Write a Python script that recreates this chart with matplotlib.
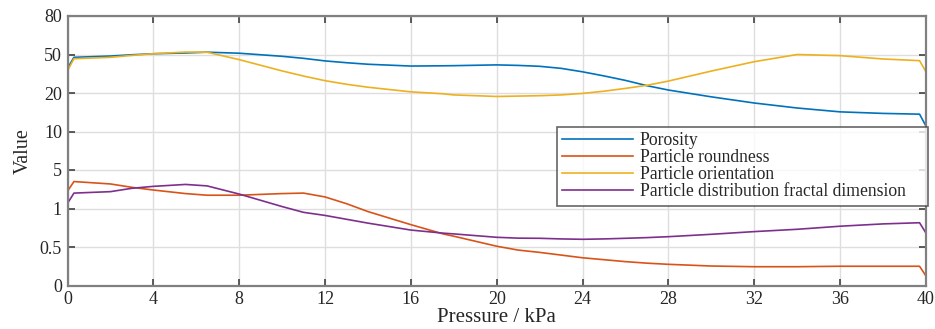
import numpy as np
import matplotlib
matplotlib.use("Agg")
import matplotlib.pyplot as plt

# ---- data ----
pressure = [0, 0.3, 2, 3, 4, 5.5, 6.5, 8, 10, 11, 12, 13, 14, 16, 17.5, 18, 20, 21, 22, 23, 24,
            25, 26, 27, 28, 30, 32, 34, 36, 38, 39.7, 40]
porosity = [39.2, 47.8, 48.8, 49.8, 50.6, 51.2, 51.8, 51.0, 48.6, 47.0, 45.0, 43.6, 42.4, 41.0, 41.2,
            41.3, 41.9, 41.5, 40.8, 39.2, 36.5, 33.3, 29.8, 25.7, 22.3, 19.0, 17.4, 16.1, 15.1, 14.7,
            14.5, 11.4]
roundness = [2.8, 3.8, 3.55, 3.2, 2.92, 2.55, 2.38, 2.38, 2.55, 2.6, 2.2, 1.5, 0.96, 0.79, 0.67,
             0.64, 0.51, 0.46, 0.43, 0.395, 0.36, 0.335, 0.31, 0.29, 0.275, 0.253, 0.244, 0.244, 0.25,
             0.25, 0.25, 0.123]
orientation = [37.4, 46.7, 47.8, 49.3, 50.6, 51.9, 51.8, 46.0, 37.2, 33.2, 29.6, 26.8, 24.5, 20.9, 19.8,
               19.5, 19.1, 19.2, 19.3, 19.5, 19.9, 21.4, 23.6, 26.0, 29.3, 37.1, 44.4, 50.0, 49.1, 46.5,
               45.2, 36.5]
fractal = [1.53, 2.6, 2.75, 3.1, 3.3, 3.5, 3.35, 2.5, 1.2, 0.95, 0.91, 0.86, 0.81, 0.72, 0.68,
           0.67, 0.626, 0.615, 0.613, 0.605, 0.6, 0.605, 0.613, 0.622, 0.634, 0.665, 0.70, 0.73, 0.77,
           0.80, 0.815, 0.68]

series_names = ["Porosity", "Particle roundness", "Particle orientation",
                "Particle distribution fractal dimension"]
y_ticks = [0, 0.5, 1, 5, 10, 20, 50, 80]
y_tick_labels = ["0", "0.5", "1", "5", "10", "20", "50", "80"]
x_ticks = [0, 4, 8, 12, 16, 20, 24, 28, 32, 36, 40]

colors = ["#0072BD", "#D95319", "#EDB120", "#7E2F8E"]

# piecewise scale: equal spacing between listed tick values
pos = np.arange(len(y_ticks), dtype=float)
def fwd(v):
    return np.interp(v, y_ticks, pos)
def inv(p):
    return np.interp(p, pos, y_ticks)

plt.rcParams['font.family'] = ['Liberation Serif', 'DejaVu Serif']

fig = plt.figure(figsize=(9.35, 3.29), dpi=100)
L, R, T, B = 67.5, 926.0, 16.0, 285.5
ax = fig.add_axes([L/935, 1-B/329, (R-L)/935, (B-T)/329])
ax.set_yscale('function', functions=(fwd, inv))

for vals, c, name in zip([porosity, roundness, orientation, fractal], colors, series_names):
    ax.plot(pressure, vals, color=c, lw=1.2, label=name)

ax.set_xlim(0, 40)
ax.set_ylim(0, 80)
ax.set_xticks(x_ticks)
ax.set_xticklabels([str(t) for t in x_ticks])
ax.set_yticks(y_ticks)
ax.set_yticklabels(y_tick_labels)
ax.minorticks_off()
ax.grid(True, color="#dedede", lw=1.0)
ax.set_axisbelow(True)
for s in ax.spines.values():
    s.set_color("#808080")
    s.set_linewidth(1.6)
ax.tick_params(direction='in', length=5, width=1.2, color="#404040",
               top=True, right=True, labelsize=13, labelcolor="#262626", pad=4)

ax.set_xlabel("Pressure / kPa", fontsize=15, color="#262626", labelpad=0)
ax.set_ylabel("Value", fontsize=14.5, color="#262626", labelpad=5)

lx0, lx1, ly0, ly1 = 557.0, 928.0, 127.0, 203.0
leg = ax.legend(loc='upper left',
                bbox_to_anchor=((lx0-L)/(R-L), (B-ly1)/(B-T), (lx1-lx0)/(R-L), (ly1-ly0)/(B-T)),
                mode='expand',
                fontsize=12.7, frameon=True, fancybox=False, edgecolor="#404040",
                handlelength=4.0, handletextpad=0.4, labelspacing=0.0, borderpad=0.3,
                borderaxespad=0)
leg.get_frame().set_linewidth(1.2)
for t in leg.get_texts():
    t.set_color("#262626")

fig.savefig("out.png", dpi=100)
